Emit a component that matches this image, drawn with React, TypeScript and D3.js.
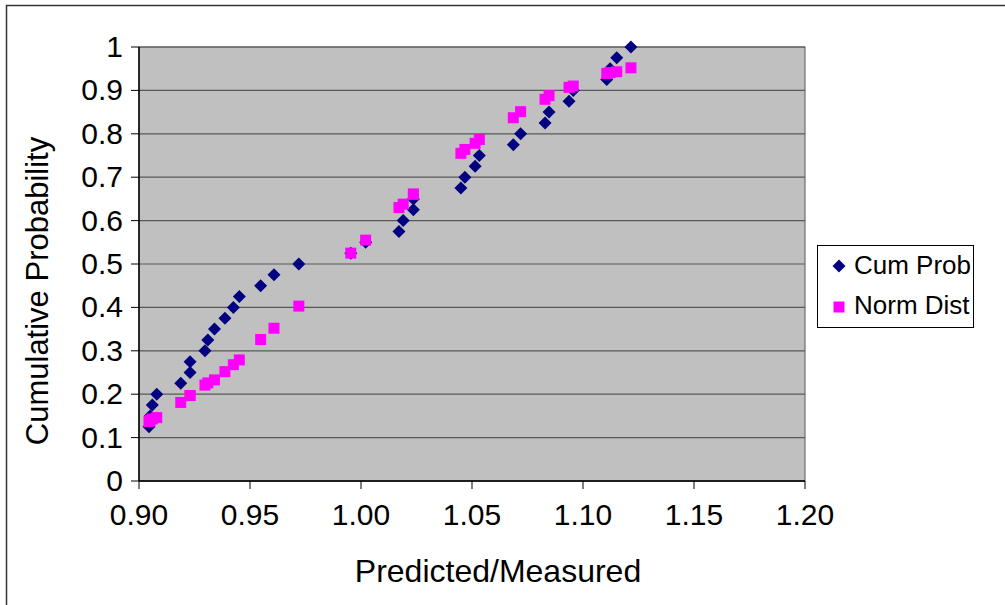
import React from "react";
import * as d3 from "d3";

const xValues = [
  0.9045, 0.905, 0.906, 0.908, 0.9188, 0.923, 0.923, 0.9297, 0.931, 0.934,
  0.9387, 0.9425, 0.9452, 0.9548, 0.9608, 0.972, 0.9954, 1.0021, 1.0171, 1.019,
  1.0236, 1.0236, 1.045, 1.0468, 1.0514, 1.0533, 1.0686, 1.0719, 1.0829, 1.0847,
  1.0937, 1.0956, 1.1107, 1.1122, 1.1152, 1.1216,
];
const cumProb = [
  0.125, 0.15, 0.175, 0.2, 0.225, 0.25, 0.275, 0.3, 0.325, 0.35,
  0.375, 0.4, 0.425, 0.45, 0.475, 0.5, 0.525, 0.55, 0.575, 0.6,
  0.625, 0.65, 0.675, 0.7, 0.725, 0.75, 0.775, 0.8, 0.825, 0.85,
  0.875, 0.9, 0.925, 0.95, 0.975, 1.0,
];
const normDist = [
  0.137, 0.14, 0.143, 0.146, 0.181, 0.197, 0.197, 0.221, 0.226, 0.233,
  0.252, 0.268, 0.279, 0.326, 0.352, 0.403, 0.525, 0.555, 0.63, 0.638,
  0.661, 0.661, 0.755, 0.764, 0.778, 0.787, 0.837, 0.851, 0.8795, 0.888,
  0.907, 0.91, 0.939, 0.941, 0.943, 0.952,
];
const xTicks = [0.9, 0.95, 1.0, 1.05, 1.1, 1.15, 1.2];
const yTicks = [0, 0.1, 0.2, 0.3, 0.4, 0.5, 0.6, 0.7, 0.8, 0.9, 1];
const seriesNames = ["Cum Prob", "Norm Dist"];
const xTitle = "Predicted/Measured";
const yTitle = "Cumulative Probability";

const W = 1005;
const H = 605;
const left = 139;
const right = 805;
const top = 47;
const bottom = 481;
const font = "'Liberation Sans', Arial, sans-serif";
const navy = "#000080";
const magenta = "#FF00FF";
const gridColor = "#585858";

const diamond = (cx: number, cy: number, r: number) =>
  `M${cx},${cy - r}L${cx + r},${cy}L${cx},${cy + r}L${cx - r},${cy}Z`;

export default function App() {
  const x = d3.scaleLinear().domain([0.9, 1.2]).range([left, right]);
  const y = d3.scaleLinear().domain([0, 1]).range([bottom, top]);
  const fmtX = d3.format(".2f");
  const fmtY = (v: number) => (v === 0 ? "0" : v === 1 ? "1" : d3.format(".1f")(v));
  const sq = 11;

  return (
    <svg
      width={W}
      height={H}
      style={{ position: "absolute", left: 0, top: 0, background: "#fff" }}
      fontFamily={font}
    >
      <rect x={6.5} y={5.5} width={W + 10} height={H + 10} fill="#fff" stroke="#333" strokeWidth={1.5} />
      <rect x={left} y={top} width={right - left} height={bottom - top} fill="#C0C0C0" stroke={gridColor} strokeWidth={1} />
      {yTicks.map((t) => (
        <line key={"g" + t} x1={left} x2={right} y1={y(t)} y2={y(t)} stroke={gridColor} strokeWidth={1.2} />
      ))}
      <line x1={left} x2={left} y1={top} y2={bottom} stroke="#000" strokeWidth={1.5} />
      <line x1={left} x2={right} y1={bottom} y2={bottom} stroke="#000" strokeWidth={1.5} />
      {yTicks.map((t) => (
        <g key={"y" + t}>
          <line x1={left - 8} x2={left} y1={y(t)} y2={y(t)} stroke="#000" strokeWidth={1} />
          <text x={123} y={y(t) + 10} textAnchor="end" fontSize={30} fill="#000">
            {fmtY(t)}
          </text>
        </g>
      ))}
      {xTicks.map((t) => (
        <g key={"x" + t}>
          <line x1={x(t)} x2={x(t)} y1={bottom} y2={bottom + 8} stroke="#000" strokeWidth={1} />
          <text x={x(t)} y={525} textAnchor="middle" fontSize={30} fill="#000">
            {fmtX(t)}
          </text>
        </g>
      ))}
      <text x={498} y={582} textAnchor="middle" fontSize={32} fill="#000">
        {xTitle}
      </text>
      <text
        transform={`translate(48,291) rotate(-90)`}
        textAnchor="middle"
        fontSize={31}
        fill="#000"
      >
        {yTitle}
      </text>
      <g>
        {xValues.map((v, i) => (
          <path key={"c" + i} d={diamond(x(v), y(cumProb[i]), 6.5)} fill={navy} />
        ))}
      </g>
      <g>
        {xValues.map((v, i) => (
          <rect key={"n" + i} x={x(v) - sq / 2} y={y(normDist[i]) - sq / 2} width={sq} height={sq} fill={magenta} />
        ))}
      </g>
      <rect x={817.5} y={245.5} width={156} height={82} fill="#fff" stroke="#000" strokeWidth={1} />
      <path d={diamond(839, 266, 6.5)} fill={navy} />
      <text x={854} y={274} fontSize={26} fill="#000">
        {seriesNames[0]}
      </text>
      <rect x={839 - sq / 2} y={307 - sq / 2} width={sq} height={sq} fill={magenta} />
      <text x={854} y={314} fontSize={26} fill="#000">
        {seriesNames[1]}
      </text>
    </svg>
  );
}
